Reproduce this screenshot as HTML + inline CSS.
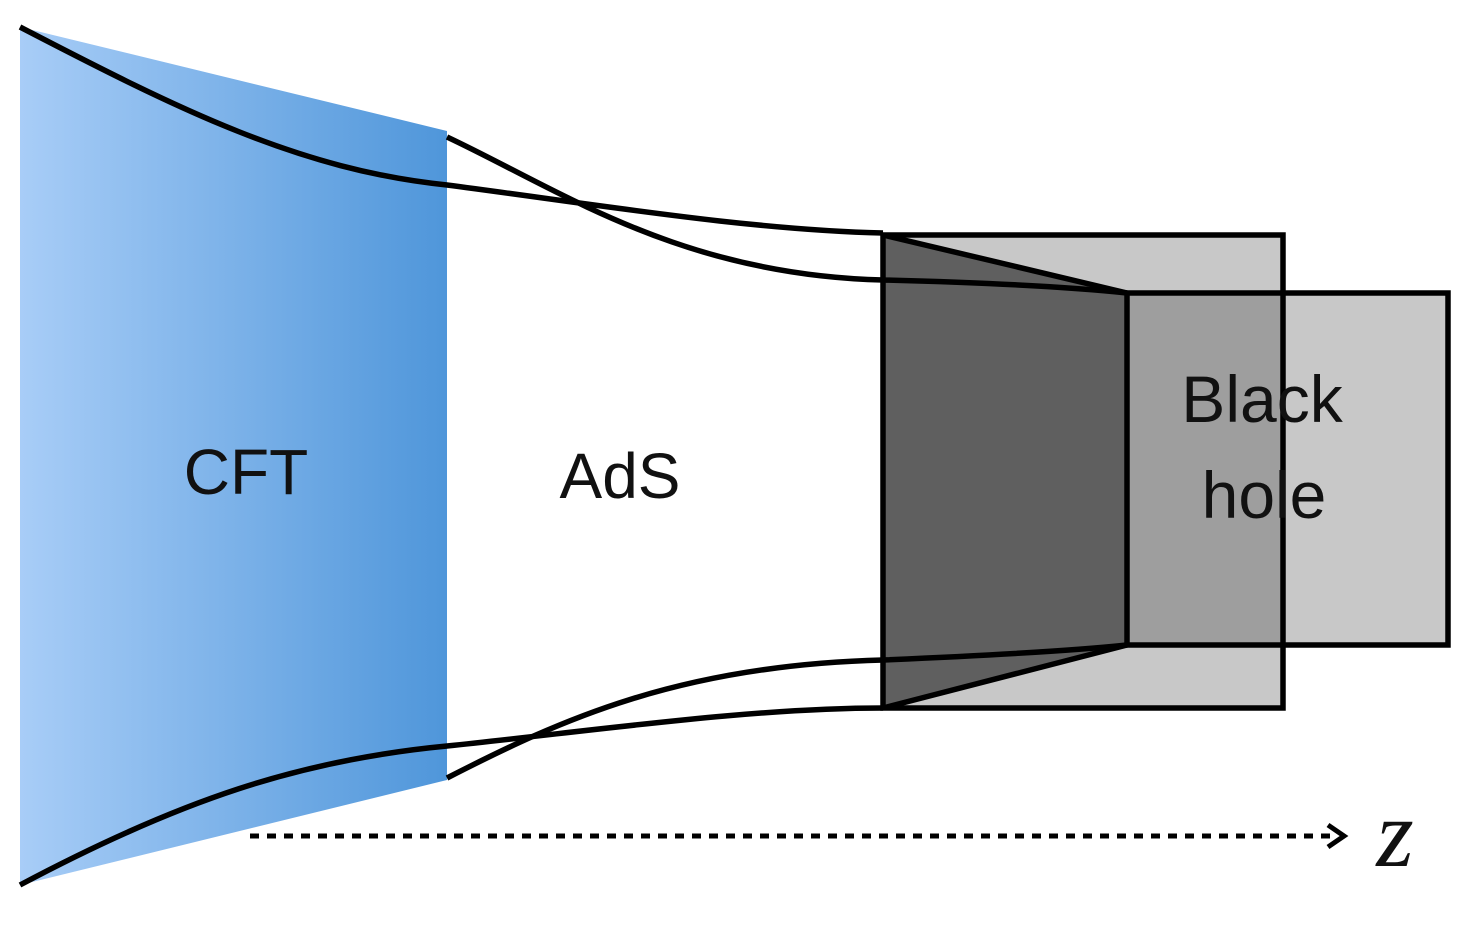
<!DOCTYPE html>
<html><head><meta charset="utf-8"><style>
html,body{margin:0;padding:0;background:#fff;}
svg{display:block;}
</style></head><body>
<svg width="1482" height="927" viewBox="0 0 1482 927" xmlns="http://www.w3.org/2000/svg">
<defs>
<linearGradient id="g" x1="0" y1="0" x2="1" y2="0">
<stop offset="0" stop-color="#a8cdf7"/>
<stop offset="1" stop-color="#4f96da"/>
</linearGradient>
</defs>
<polygon points="20,27 447,131 447,780 20,885" fill="url(#g)"/>
<rect x="883" y="235" width="400" height="473" fill="#c8c8c8"/>
<rect x="1127" y="293" width="321" height="352" fill="#c8c8c8"/>
<rect x="1127" y="293" width="156" height="352" fill="#9e9e9e"/>
<polygon points="883,235 1127,293 1127,645 883,708" fill="#5f5f5f"/>
<g fill="none" stroke="#000" stroke-width="5.5">
<rect x="883" y="235" width="400" height="473"/>
<rect x="1127" y="293" width="321" height="352"/>
<line x1="883" y1="235" x2="1127" y2="293"/>
<line x1="883" y1="708" x2="1127" y2="645"/>
<path d="M20,27 C180,110 300,170 447,185 C600,205 750,230 883,233"/>
<path d="M447,137 C560,190 680,275 883,280 C1000,283 1080,288 1127,293"/>
<path d="M20,885 C180,800 300,760 447,746 C600,730 750,708 883,708"/>
<path d="M447,778 C560,720 680,665 883,660 C1000,655 1080,650 1127,645"/>
<line x1="250" y1="836" x2="1338" y2="836" stroke-width="5" stroke-dasharray="9,8"/>
<polyline points="1328,825 1344,836 1328,847" stroke-width="5"/>
</g>
<g font-family="Liberation Sans, sans-serif" font-size="64" fill="#111" text-anchor="middle">
<text x="246" y="494">CFT</text>
<text x="620" y="498">AdS</text>
<text x="1262" y="422" font-size="66">Black</text>
<text x="1264" y="518" font-size="66">hole</text>
</g>
<text x="1395" y="866" font-family="Liberation Serif, serif" font-style="italic" font-size="96" fill="#111" text-anchor="middle">z</text>
</svg>
</body></html>
